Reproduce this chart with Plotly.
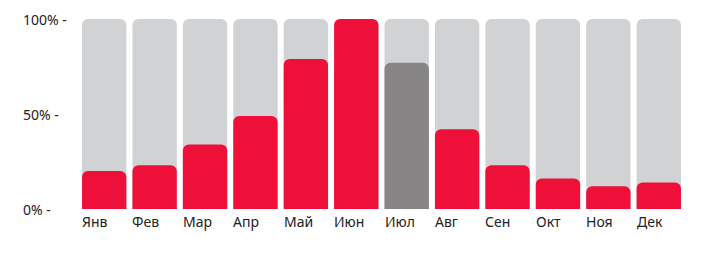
import plotly.graph_objects as go

months = ["Янв", "Фев", "Мар", "Апр", "Май", "Июн", "Июл", "Авг", "Сен", "Окт", "Ноя", "Дек"]
values = [20, 23, 34, 49, 79, 100, 77, 42, 23, 16, 12, 14]
background = [100] * 12
highlight_month = "Июл"
y_ticks = [0, 50, 100]
y_tick_labels = ["0% -", "50% -", "100% -"]

RED = "#EE1038"
GREY_BG = "#D1D2D4"
GREY_HL = "#868484"
TEXT = "#222222"
FONT = "Noto Sans"

colors = [GREY_HL if m == highlight_month else RED for m in months]
xs = list(range(len(months)))

fig = go.Figure()
fig.add_trace(go.Bar(x=xs, y=background, xaxis="x", yaxis="y",
                     marker=dict(color=GREY_BG, line=dict(width=0), cornerradius=6),
                     hoverinfo="skip", showlegend=False))
fig.add_trace(go.Bar(x=xs, y=values, xaxis="x2", yaxis="y2",
                     marker=dict(color=colors, line=dict(width=0), cornerradius=6),
                     customdata=months, hovertemplate="%{customdata}: %{y}%<extra></extra>",
                     showlegend=False))

annotations = []
half = 0.44
for i, m in enumerate(months):
    annotations.append(dict(x=i - half, y=0, xref="x", yref="y", text=m, showarrow=False,
                            xanchor="left", yanchor="top", yshift=-1, xshift=-2,
                            font=dict(family=FONT, size=14, color=TEXT)))
for v, t in zip(y_ticks, y_tick_labels):
    annotations.append(dict(x=0, y=v, xref="paper", yref="y", text=t, showarrow=False,
                            xanchor="left", yanchor="middle", xshift=-58,
                            font=dict(family=FONT, size=14, color=TEXT)))

axis_x = dict(range=[-0.5, 11.5], showticklabels=False, showgrid=False, zeroline=False,
              showline=False, ticks="", fixedrange=True)
axis_y = dict(range=[0, 100], showticklabels=False, showgrid=False, zeroline=False,
              showline=False, ticks="", fixedrange=True)

fig.update_layout(
    width=721, height=259,
    margin=dict(l=79, r=37, t=19, b=50),
    paper_bgcolor="white", plot_bgcolor="white",
    barmode="overlay", bargap=0.12,
    xaxis=axis_x,
    yaxis=axis_y,
    xaxis2=dict(axis_x, overlaying="x"),
    yaxis2=dict(axis_y, overlaying="y"),
    annotations=annotations,
    font=dict(family=FONT, color=TEXT),
)

fig.write_html("out.html")
